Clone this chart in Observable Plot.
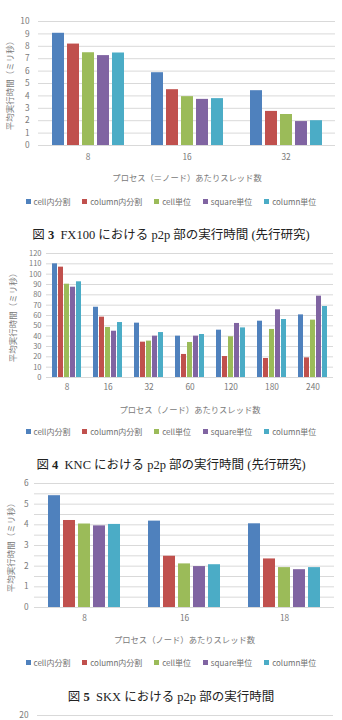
<!DOCTYPE html>
<html lang="ja">
<head>
<meta charset="utf-8">
<script src="https://cdn.jsdelivr.net/npm/d3@7"></script>
<script src="https://cdn.jsdelivr.net/npm/@observablehq/plot@0.6"></script>
<style>
  html, body { margin: 0; padding: 0; background: #fff; }
  body { width: 342px; height: 720px; overflow: hidden; position: relative; font-family: "Noto Sans CJK JP", sans-serif; }
  .block { position: absolute; left: 0; width: 342px; }
  .legend-row { display: flex; justify-content: center; align-items: center; height: 12px; }
  .lg-swatches { min-height: 0 !important; margin: 0 !important; font-size: 8px; color: #6f6f6f; font-family: "Noto Sans CJK JP", sans-serif; justify-content: center; }
  .lg-swatch { margin-right: 1.5em; }
  .lg-swatch:last-child { margin-right: 0; }
  .lg-swatch > svg { margin-right: 0.35em; }
  .caption { text-align: center; font-family: "Liberation Serif", "DejaVu Serif", "Noto Sans CJK JP", serif; font-size: 12.5px; color: #222; line-height: 14px; white-space: nowrap; }
</style>
</head>
<body>
<script>
// Series shared by every chart (legend order)
const seriesNames = ["cell内分割", "column内分割", "cell単位", "square単位", "column単位"];
const seriesColors = ["#4f81bd", "#c0504d", "#9bbb59", "#8064a2", "#4bacc6"];

const yTitle = "平均実行時間（ミリ秒）";

// 図3: FX100 (ms)
const fx100Threads = ["8", "16", "32"];
const fx100CellSplit = [9.05, 5.87, 4.42];
const fx100ColumnSplit = [8.18, 4.50, 2.75];
const fx100CellUnit = [7.48, 3.94, 2.50];
const fx100SquareUnit = [7.25, 3.72, 1.93];
const fx100ColumnUnit = [7.46, 3.78, 2.00];
const fx100YTicks = [0, 1, 2, 3, 4, 5, 6, 7, 8, 9, 10];
const fx100XTitle = "プロセス（＝ノード）あたりスレッド数";
const fx100Caption = ["図", "3", "FX100 における p2p 部の実行時間 (先行研究)"];

// 図4: KNC (ms)
const kncThreads = ["8", "16", "32", "60", "120", "180", "240"];
const kncCellSplit = [110.0, 68.0, 52.6, 40.0, 45.8, 54.5, 60.6];
const kncColumnSplit = [106.8, 58.4, 34.2, 22.3, 20.3, 18.4, 19.0];
const kncCellUnit = [90.3, 48.4, 35.2, 33.9, 39.4, 46.5, 55.5];
const kncSquareUnit = [87.4, 44.8, 40.0, 40.0, 52.3, 65.5, 78.7];
const kncColumnUnit = [92.6, 53.2, 43.5, 41.6, 48.0, 56.1, 68.7];
const kncYTicks = [0, 10, 20, 30, 40, 50, 60, 70, 80, 90, 100, 110, 120];
const kncXTitle = "プロセス（ノード）あたりスレッド数";
const kncCaption = ["図", "4", "KNC における p2p 部の実行時間 (先行研究)"];

// 図5: SKX (ms)
const skxThreads = ["8", "16", "18"];
const skxCellSplit = [5.41, 4.18, 4.05];
const skxColumnSplit = [4.21, 2.48, 2.35];
const skxCellUnit = [4.04, 2.11, 1.93];
const skxSquareUnit = [3.95, 1.98, 1.83];
const skxColumnUnit = [4.02, 2.07, 1.93];
const skxYTicks = [0, 1, 2, 3, 4, 5, 6];
const skxYGrid = [0, 0.5, 1, 1.5, 2, 2.5, 3, 3.5, 4, 4.5, 5, 5.5, 6];
const skxXTitle = "プロセス（ノード）あたりスレッド数";
const skxCaption = ["図", "5", "SKX における p2p 部の実行時間"];

// next figure's axis top
const nextYTicks = [20];

const gridColor = "#d9d9d9";
const textColor = "#7a7a7a";
const axisFont = '"Noto Sans CJK JP", sans-serif';

function place(el, top) {
  const wrap = document.createElement("div");
  wrap.className = "block";
  wrap.style.top = top + "px";
  wrap.appendChild(el);
  document.body.appendChild(wrap);
  return wrap;
}

function toRows(threads, columns) {
  const rows = [];
  columns.forEach((vals, s) => {
    vals.forEach((v, i) => rows.push({group: threads[i], series: seriesNames[s], value: v}));
  });
  return rows;
}

function groupedBars(cfg) {
  const rows = toRows(cfg.threads, cfg.columns);
  return Plot.plot({
    width: 342,
    height: cfg.height,
    marginLeft: cfg.ml,
    marginRight: cfg.mr,
    marginTop: cfg.mt,
    marginBottom: cfg.mb,
    style: {fontFamily: axisFont, fontSize: "8.3px", color: textColor, background: "transparent", overflow: "visible"},
    fx: {domain: cfg.threads, padding: 0},
    x: {domain: seriesNames, paddingInner: cfg.padIn, paddingOuter: cfg.padOut, axis: null},
    y: {domain: [0, cfg.yMax]},
    color: {domain: seriesNames, range: seriesColors},
    marks: [
      Plot.gridY(cfg.yGrid, {stroke: gridColor, strokeOpacity: 1, strokeWidth: 1}),
      Plot.barY(rows, {fx: "group", x: "series", y: "value", fill: "series"}),
      Plot.axisY(cfg.yTicks, {
        tickSize: 0, tickPadding: cfg.yPad, fontSize: cfg.yFont, label: null
      }),
      // rotated y title, drawn once beside the leftmost group
      Plot.text([yTitle], {
        frameAnchor: "left", textAnchor: "middle", lineAnchor: "middle",
        rotate: -90, dx: -(cfg.ml - 10), fontSize: 8.5,
        fill: "currentColor", facetAnchor: "left"
      }),
      Plot.axisFx({
        anchor: "bottom", tickSize: 0, tickPadding: cfg.fxPad, fontSize: 8.3,
        label: cfg.xTitle, labelAnchor: "center", labelArrow: "none", labelOffset: 35
      })
    ]
  });
}

function legendRow(top) {
  const lg = Plot.legend({
    color: {domain: seriesNames, range: seriesColors},
    legend: "swatches",
    swatchSize: 5,
    className: "lg"
  });
  const row = document.createElement("div");
  row.className = "legend-row";
  row.appendChild(lg);
  place(row, top);
}

function caption(parts, top) {
  const div = document.createElement("div");
  div.className = "caption";
  const b = document.createElement("b");
  b.textContent = parts[1];
  div.append(parts[0] + " ", b, "\u00a0\u00a0" + parts[2]);
  return place(div, top);
}

// 図3
place(groupedBars({
  threads: fx100Threads,
  columns: [fx100CellSplit, fx100ColumnSplit, fx100CellUnit, fx100SquareUnit, fx100ColumnUnit],
  height: 185, ml: 38, mr: 7, mt: 21, mb: 40,
  yMax: 10, yTicks: fx100YTicks, yGrid: fx100YTicks, yPad: 9, yFont: 8.3, fxPad: 9,
  padIn: 0.2, padOut: 0.85, xTitle: fx100XTitle
}), 0);
legendRow(195);
caption(fx100Caption, 228);

// 図4
place(groupedBars({
  threads: kncThreads,
  columns: [kncCellSplit, kncColumnSplit, kncCellUnit, kncSquareUnit, kncColumnUnit],
  height: 172, ml: 43, mr: 7, mt: 8, mb: 40,
  yMax: 120, yTicks: kncYTicks, yGrid: kncYTicks, yPad: 5, yFont: 7.5, fxPad: 7,
  padIn: 0.2, padOut: 0.93, xTitle: kncXTitle
}), 245);
legendRow(425);
caption(kncCaption, 458);

// 図5
place(groupedBars({
  threads: skxThreads,
  columns: [skxCellSplit, skxColumnSplit, skxCellUnit, skxSquareUnit, skxColumnUnit],
  height: 172, ml: 33, mr: 7, mt: 8, mb: 40,
  yMax: 6, yTicks: skxYTicks, yGrid: skxYGrid, yPad: 6, yFont: 8.3, fxPad: 8,
  padIn: 0.17, padOut: 0.81, xTitle: skxXTitle
}), 475);
legendRow(656);
caption(skxCaption, 690);

// top of the following figure
place(Plot.plot({
  width: 342, height: 100, marginLeft: 37, marginRight: 9, marginTop: 8, marginBottom: 10,
  style: {fontFamily: axisFont, fontSize: "8.3px", color: textColor, background: "transparent", overflow: "visible"},
  y: {domain: [0, 20]},
  marks: [
    Plot.gridY(nextYTicks, {stroke: gridColor, strokeOpacity: 1}),
    Plot.axisY(nextYTicks, {tickSize: 0, tickPadding: 9, fontSize: 8.3, label: null})
  ]
}), 707);
</script>
</body>
</html>
